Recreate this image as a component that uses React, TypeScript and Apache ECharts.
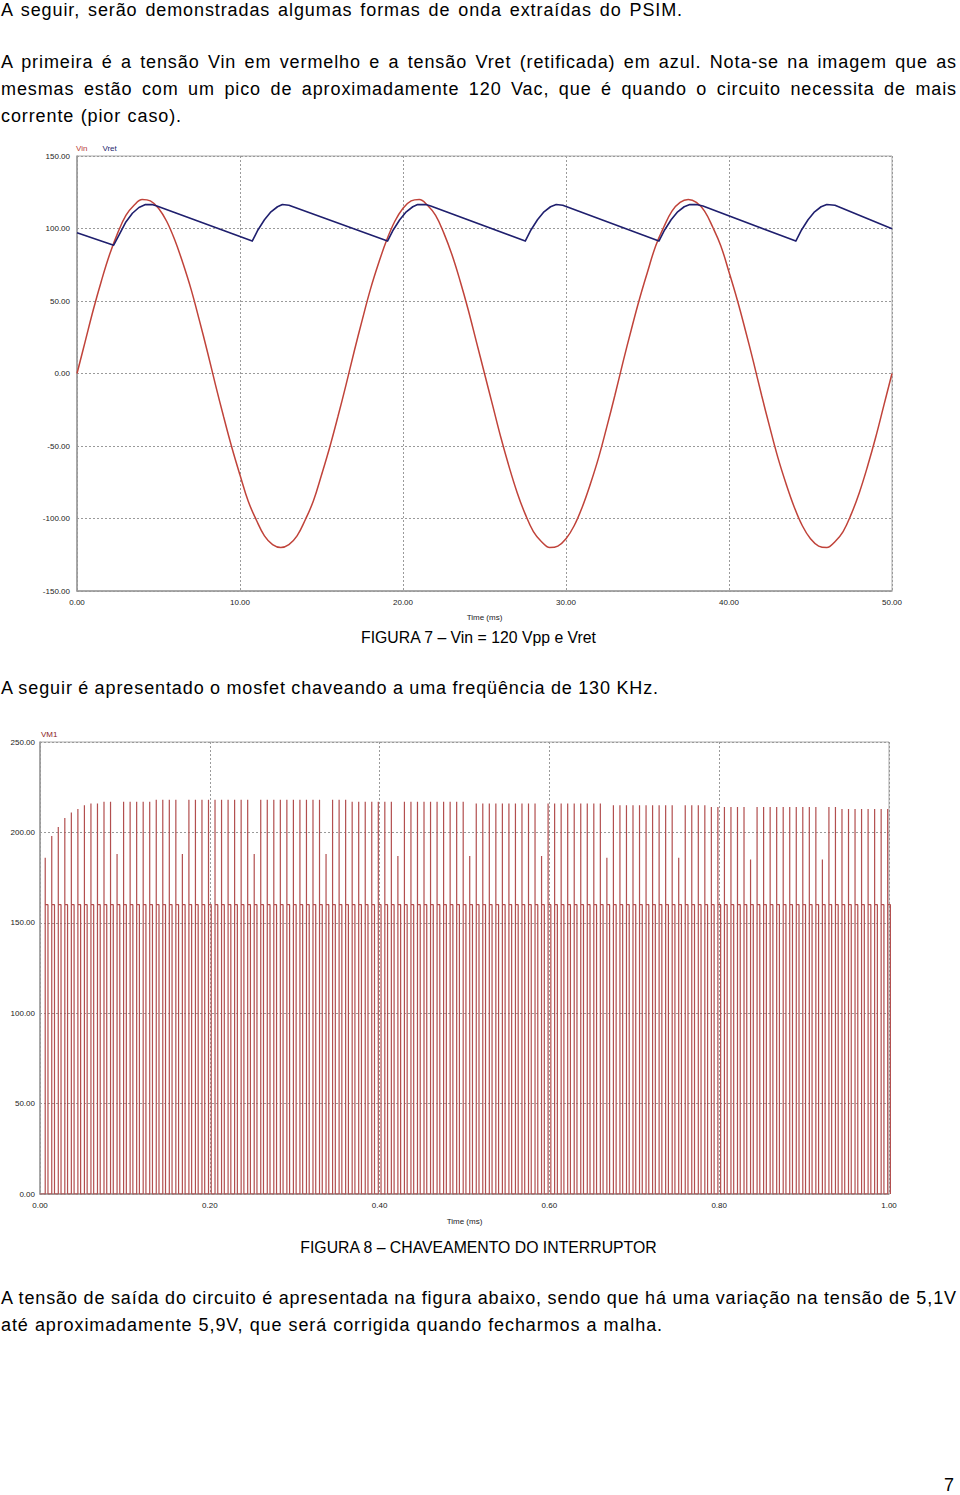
import React, { useEffect, useLayoutEffect, useRef } from "react";
import * as echarts from "echarts";

// ---------- Figure 7 data (time in ms, voltage in V) ----------
const vinStepMs = 0.5;
const vinValues = [
  0, 22, 44, 64, 82, 97, 109, 116, 120, 119,
  114, 105, 92, 76, 58, 37, 15, -8, -30, -51,
  -70, -88, -101, -112, -118, -120, -118, -112, -101, -88,
  -70, -51, -30, -8, 15, 37, 58, 76, 92, 105,
  114, 119, 120, 116, 109, 97, 82, 64, 44, 22,
  0,
  -22, -44, -64, -82, -97, -109, -116, -120, -119, -114,
  -105, -92, -76, -58, -37, -15, 8, 30, 51, 70,
  88, 101, 112, 118, 120, 118, 112, 101, 88, 70,
  51, 30, 8, -15, -37, -58, -76, -92, -105, -114,
  -119, -120, -116, -109, -97, -82, -64, -44, -22, 0,
];
const vretTime = [
  0, 2.25, 2.6, 3.0, 3.4, 3.8, 4.2, 4.6, 4.9,
  10.75, 11.1, 11.5, 11.9, 12.3, 12.6, 13.0,
  19.05, 19.4, 19.8, 20.2, 20.6, 20.9, 21.4, 21.7,
  27.5, 27.85, 28.25, 28.65, 29.05, 29.4, 29.8,
  35.7, 36.05, 36.45, 36.85, 37.25, 37.6, 38.0, 38.4,
  44.1, 44.45, 44.85, 45.25, 45.65, 46.0, 46.5,
  50,
];
const vretValue = [
  97, 88.5, 96, 104.5, 110.5, 114.5, 116.5, 116.5, 115.5,
  91.3, 99, 106, 111.5, 115, 116.5, 116,
  91.3, 99, 106, 111.5, 115, 116.5, 116.5, 115.5,
  91.3, 99, 106, 111.5, 115, 116.5, 116,
  91.3, 99, 106, 111.5, 115, 116.5, 116.5, 115.5,
  91.3, 99, 106, 111.5, 115, 116.5, 116,
  99.8,
];
const fig7XTicks = [0, 50, 10]; // min, max, interval
const fig7YTicks = [-150, 150, 50];

// ---------- Figure 8 data ----------
const switchFreqKHz = 130;
const pulsePhase = 0.8; // first switching edge, in periods
const dutyCycle = 0.42;
const plateauV = 160;
const spikePeaks = [
  186, 198, 203, 208, 211, 213, 215, 216, 216, 217, 217,
  188,
  217, 217, 217, 217, 217, 218, 218, 218, 218,
  188,
  218, 218, 218, 218, 218, 218, 218, 218, 218, 218,
  188,
  218, 218, 218, 218, 218, 218, 218, 218, 218, 218,
  188,
  218, 218, 218, 217, 217, 217, 217, 217, 217, 217,
  187,
  217, 217, 217, 217, 217, 217, 217, 217, 217, 217,
  187,
  216, 216, 216, 216, 216, 216, 216, 216, 216, 216,
  187,
  216, 216, 216, 216, 216, 216, 216, 216, 216,
  186,
  215, 215, 215, 215, 215, 215, 215, 215, 215, 215,
  186,
  215, 215, 215, 215, 214, 214, 214, 214, 214, 214,
  185,
  214, 214, 214, 214, 214, 214, 214, 214, 214, 214,
  185,
  214, 214, 213, 213, 213, 213, 213, 213, 213, 213,
];
const fig8XTicks = [0, 1, 0.2];
const fig8YTicks = [0, 250, 50];

// ---------- Page text ----------
const bodyLines = [
  { y: 10, w: 682, text: "A seguir, serão demonstradas algumas formas de onda extraídas do PSIM." },
  { y: 62, w: 956, text: "A primeira é a tensão Vin em vermelho e a tensão Vret (retificada) em azul. Nota-se na imagem que as" },
  { y: 89, w: 956, text: "mesmas estão com um pico de aproximadamente 120 Vac, que é quando o circuito necessita de mais" },
  { y: 116, w: 181, text: "corrente (pior caso)." },
  { y: 688, w: 658, text: "A seguir é apresentado o mosfet chaveando a uma freqüência de 130 KHz." },
  { y: 1298, w: 956, text: "A tensão de saída do circuito é apresentada na figura abaixo, sendo que há uma variação na tensão de 5,1V" },
  { y: 1325, w: 662, text: "até aproximadamente 5,9V, que será corrigida quando fecharmos a malha." },
];
const captions = [
  { y: 638, text: "FIGURA 7 – Vin = 120 Vpp e Vret" },
  { y: 1248, text: "FIGURA 8 – CHAVEAMENTO DO INTERRUPTOR" },
];

const FONT = "'Liberation Sans', Arial, sans-serif";
const axisText = { fontSize: 8, color: "#222", fontFamily: FONT };
const splitStyle = { show: true, lineStyle: { color: "#9a9a9a", type: [2, 2] as any, width: 1 } };

function valueAxis(ticks: number[], extra: any) {
  return {
    type: "value",
    min: ticks[0],
    max: ticks[1],
    interval: ticks[2],
    axisLine: { show: true, onZero: false, lineStyle: { color: "#999", width: 1.5 } },
    axisTick: { show: false },
    splitLine: splitStyle,
    axisLabel: { ...axisText, formatter: (v: number) => v.toFixed(2) },
    ...extra,
  };
}

function Figure7() {
  const ref = useRef<HTMLDivElement>(null);
  useEffect(() => {
    const chart = echarts.init(ref.current!, null, { renderer: "svg" });
    const vin = vinValues.map((v, i) => [i * vinStepMs, v]);
    const vret = vretTime.map((t, i) => [t, vretValue[i]]);
    chart.setOption({
      animation: false,
      legend: {
        left: 71,
        top: 4,
        padding: 0,
        icon: "none",
        itemWidth: 0,
        itemHeight: 8,
        itemGap: 10,
        selectedMode: false,
        textStyle: { fontSize: 8, fontFamily: FONT },
        data: [
          { name: "Vin", textStyle: { color: "#b8403a" } },
          { name: "Vret", textStyle: { color: "#1f1f6e" } },
        ],
      },
      grid: { left: 77, right: 68, top: 16, bottom: 39, show: true, borderColor: "#aaa", borderWidth: 1 },
      xAxis: valueAxis(fig7XTicks, {
        name: "Time (ms)",
        nameLocation: "middle",
        nameGap: 22,
        nameTextStyle: axisText,
        axisLabel: { ...axisText, margin: 7, formatter: (v: number) => v.toFixed(2) },
      }),
      yAxis: valueAxis(fig7YTicks, {
        axisLabel: { ...axisText, margin: 7, formatter: (v: number) => v.toFixed(2) },
      }),
      series: [
        {
          name: "Vin",
          type: "line",
          data: vin,
          smooth: 0.4,
          showSymbol: false,
          lineStyle: { color: "#c0433a", width: 1.5 },
          itemStyle: { color: "#c0433a" },
        },
        {
          name: "Vret",
          type: "line",
          data: vret,
          smooth: false,
          showSymbol: false,
          lineStyle: { color: "#1f1f6e", width: 1.6, join: "round" },
          itemStyle: { color: "#1f1f6e" },
        },
      ],
    });
    return () => chart.dispose();
  }, []);
  return <div ref={ref} style={{ position: "absolute", left: 0, top: 140, width: 960, height: 490 }} />;
}

function Figure8() {
  const ref = useRef<HTMLDivElement>(null);
  useEffect(() => {
    const chart = echarts.init(ref.current!, null, { renderer: "svg" });
    const T = 1 / switchFreqKHz;
    const pts: number[][] = [[0, 0]];
    spikePeaks.forEach((p, k) => {
      const t0 = (k + pulsePhase) * T;
      const t1 = t0 + dutyCycle * T;
      pts.push([t0, 0], [t0, p], [t0, plateauV], [t1, plateauV], [t1, 0]);
    });
    chart.setOption({
      animation: false,
      legend: {
        left: 36,
        top: 5,
        padding: 0,
        icon: "none",
        itemWidth: 0,
        itemHeight: 8,
        selectedMode: false,
        textStyle: { fontSize: 8, fontFamily: FONT, color: "#8b1a1a" },
        data: ["VM1"],
      },
      grid: { left: 40, right: 71, top: 17, bottom: 36, show: true, borderColor: "#aaa", borderWidth: 1 },
      xAxis: valueAxis(fig8XTicks, {
        name: "Time (ms)",
        nameLocation: "middle",
        nameGap: 23,
        nameTextStyle: axisText,
        axisLabel: { ...axisText, margin: 7, formatter: (v: number) => v.toFixed(2) },
      }),
      yAxis: valueAxis(fig8YTicks, {
        axisLabel: { ...axisText, margin: 5, formatter: (v: number) => v.toFixed(2) },
      }),
      series: [
        {
          name: "VM1",
          type: "line",
          data: pts,
          showSymbol: false,
          lineStyle: { color: "#b24f4f", width: 1.2 },
          itemStyle: { color: "#8b1a1a" },
        },
      ],
    });
    return () => chart.dispose();
  }, []);
  return <div ref={ref} style={{ position: "absolute", left: 0, top: 725, width: 960, height: 505 }} />;
}

// One line of body text, stretched to its measured width via word spacing
function TextLine({ y, w, text }: { y: number; w: number; text: string }) {
  const ref = useRef<HTMLSpanElement>(null);
  useLayoutEffect(() => {
    const el = ref.current!;
    el.style.wordSpacing = "0px";
    const natural = el.getBoundingClientRect().width;
    const spaces = (text.match(/ /g) || []).length;
    if (spaces > 0) el.style.wordSpacing = (w - natural) / spaces + "px";
  }, [w, text]);
  return (
    <span
      ref={ref}
      style={{
        position: "absolute",
        left: 1,
        top: y - 11,
        height: 22,
        lineHeight: "22px",
        fontSize: 18,
        letterSpacing: 0.9,
        whiteSpace: "nowrap",
      }}
    >
      {text}
    </span>
  );
}

export default function App() {
  return (
    <div
      style={{
        position: "absolute",
        left: 0,
        top: 0,
        width: 960,
        height: 1495,
        background: "#fff",
        fontFamily: FONT,
        color: "#000",
        overflow: "hidden",
      }}
    >
      {bodyLines.map((l, i) => (
        <TextLine key={i} y={l.y} w={l.w} text={l.text} />
      ))}
      {captions.map((c, i) => (
        <div
          key={i}
          style={{
            position: "absolute",
            left: 0,
            top: c.y - 10,
            width: 957,
            height: 20,
            lineHeight: "20px",
            fontSize: 15.8,
            textAlign: "center",
            whiteSpace: "nowrap",
          }}
        >
          {c.text}
        </div>
      ))}
      <Figure7 />
      <Figure8 />
      <div style={{ position: "absolute", left: 944, top: 1474, fontSize: 18, lineHeight: "22px" }}>7</div>
    </div>
  );
}
